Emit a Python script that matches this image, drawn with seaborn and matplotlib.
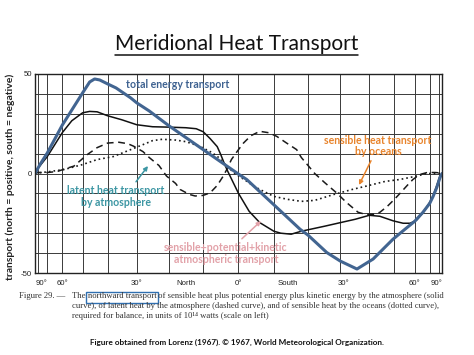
import numpy as np
import pandas as pd
import matplotlib
matplotlib.use("Agg")
import matplotlib.pyplot as plt
import seaborn as sns
from matplotlib.lines import Line2D
from matplotlib.patches import Rectangle

# latitude in degrees (north positive), northward transport in 10^14 W
total_lat = [90, 77, 70, 60, 50, 47, 45, 43, 40, 37, 32, 30, 26, 20, 10, 0, -2.3, -10, -17.6, -20,
             -25.7, -30, -35.6, -41.4, -49.4, -54.9, -60, -65, -70, -73, -77, -82, -90]
total_val = [0, 4.7, 10.3, 24.3, 40.5, 46, 47.5, 47, 45, 43, 38, 35.5, 31.4, 24, 12, -0.3, -3, -15.7, -28, -31,
             -39.7, -44, -48, -43, -33, -28, -24, -19.5, -15, -11.5, -7, -2, 0]

atmos_lat = [90, 80, 70, 60, 55, 50, 47, 44, 40, 35, 30, 25, 20, 15, 12, 10, 8, 6, 5, 4, 3, 0,
             -3, -6, -10, -12, -15, -18, -25, -30, -35, -40, -44, -49.5, -54, -57.5, -61, -65, -70,
             -73, -77, -82, -90]
atmos_val = [0, 2.7, 8.5, 20.5, 26.5, 30.5, 31.2, 31, 29, 27, 24.5, 23.5, 23.3, 23, 22.5, 21, 17.5, 13.5,
             9.5, 5, 1, -10, -19, -24.7, -29, -30, -30.5, -29, -26.5, -24.7, -23, -21, -21.5, -23.8,
             -25, -25, -23.5, -19.7, -14.5, -11.3, -6, -1, 0]

latent_lat = [90, 80, 70, 63, 58, 54, 51, 48, 44, 40, 36, 33, 31, 28, 26, 23, 20.7, 18, 16.7, 14,
              12.3, 10, 8, 6, 4.3, 3.3, 2, 0, -1.4, -3.5, -6, -8.5, -10.8, -13.5, -16.6, -18, -20, -22,
              -25, -29, -32, -36, -38.5, -41.5, -44, -47, -50, -52.5, -56, -59, -63, -68, -75, -82, -90]
latent_val = [0, 0.5, 0.5, 1, 2.5, 3.7, 6.5, 9.5, 13, 15.3, 15.7, 15, 13.7, 11, 8, 4, -1.3, -5, -8, -10.5,
              -11.3, -11, -9.7, -6, -1.3, 2, 7, 12, 15.3, 19, 21.2, 20.5, 18.7, 15.5, 12, 8, 4, 0,
              -4.5, -10, -14.5, -19.5, -20.5, -20.5, -19.5, -16.5, -13, -10, -6, -3, -0.5, 0.5, 0.5, 0.3, 0]

ocean_lat = [90, 80, 70, 59, 50, 44, 38, 32, 28, 25, 22, 18, 15, 11, 8, 6, 3.3, 1, -2, -4, -6, -10,
             -14, -18, -22, -28, -34, -39, -46, -52.5, -60, -68, -80, -90]
ocean_val = [0, 0.3, 0.8, 2, 4.5, 7, 8.5, 12, 14.5, 16.5, 17.2, 16.8, 16, 13.7, 11, 8.7, 3.7, 0, -3.5, -6,
             -8, -11.5, -13, -14, -13.5, -10.5, -8, -6.3, -4, -3, -1.5, 0, 0, 0]

tick_lats = [75, 60, 30, 15, 0, -14, -31, -60, -77]
tick_labels = ["90°", "60°", "30°", "North", "0°", "South", "30°", "60°", "90°"]

caption_head = "Figure 29. —"
caption_lines = [
    ["The ", "northward transport",
     " of sensible heat plus potential energy plus kinetic energy by the atmosphere (solid"],
    ["curve), of latent heat by the atmosphere (dashed curve), and of sensible heat by the oceans (dotted curve),"],
    ["required for balance, in units of 10¹⁴ watts (scale on left)"],
]

def sx(lat):
    # abscissa is sine of latitude, north on the left
    return -np.sin(np.radians(np.asarray(lat, dtype=float)))

sns.set_theme(style="white")
plt.rcParams['font.family'] = ['Lato', 'DejaVu Sans']

W, H = 474, 355
fig = plt.figure(figsize=(W / 100, H / 100), dpi=100)
fig.patch.set_facecolor("white")
ax = fig.add_axes([35 / W, 1 - 273 / H, (442 - 35) / W, (273 - 74) / H])

curves = [
    (latent_lat, latent_val, dict(color="#1a1a1a", lw=1.1, linestyle=(0, (4.5, 3)))),
    (ocean_lat, ocean_val, dict(color="#1a1a1a", lw=1.2, linestyle=(0, (1, 1.8)))),
    (atmos_lat, atmos_val, dict(color="#111111", lw=1.1, linestyle="-")),
    (total_lat, total_val, dict(color="#426591", lw=2.2, linestyle="-")),
]
for lat, val, kw in curves:
    df = pd.DataFrame({"x": sx(lat), "y": val})
    sns.lineplot(data=df, x="x", y="y", ax=ax, estimator=None, sort=False, **kw)

ax.set_xlim(-1, 1)
ax.set_ylim(-50, 50)
ax.set_xlabel("")
ax.set_ylabel("")

ax.xaxis.remove_overlapping_locs = False
ax.set_xticks(sx(np.arange(-80, 81, 10)), minor=True)
ax.set_xticks(sx(tick_lats))
ax.set_xticklabels(tick_labels, family="Liberation Sans", fontsize=5.6, color="#222222")
ax.set_yticks([-50, 0, 50])
ax.set_yticklabels(["-50", "0", "50"], family="Liberation Sans", fontsize=5.6, color="#222222")
ax.set_yticks(np.arange(-40, 41, 10), minor=True)
ax.tick_params(which="both", length=0)
ax.tick_params(axis="x", pad=5)
ax.tick_params(axis="y", pad=2)
ax.xaxis.grid(True, which="minor", color="#3a3a3a", lw=0.7)
ax.xaxis.grid(False, which="major")
ax.yaxis.grid(True, which="both", color="#3a3a3a", lw=0.7)
for s in ax.spines.values():
    s.set_color("#222222")
    s.set_linewidth(1.0)

# y label of the slide
fig.text(10 / W, 1 - 177 / H, "transport (north = positive, south = negative)", rotation=90,
         ha="center", va="center", fontsize=7.45, fontweight="bold", color="#222222")

def fp(x, y):
    return (x, H - y)

ann_fs = 7.6
fig.text(178 / W, 1 - 84 / H, "total energy transport", ha="center", va="center",
         fontsize=ann_fs, fontweight="bold", color="#3d6190")
ax.annotate("latent heat transport\nby atmosphere", xy=fp(148, 166), xycoords="figure pixels",
            xytext=fp(116, 196.5), textcoords="figure pixels", ha="center", va="center",
            fontsize=ann_fs, fontweight="bold", color="#3c96a3", linespacing=1.1,
            arrowprops=dict(arrowstyle="-|>", color="#3c96a3", lw=1.1, mutation_scale=6,
                            shrinkA=0, shrinkB=0, relpos=(0.68, 1.0)))
ax.annotate("sensible heat transport\nby oceans", xy=fp(359, 185), xycoords="figure pixels",
            xytext=fp(378, 146), textcoords="figure pixels", ha="center", va="center",
            fontsize=ann_fs, fontweight="bold", color="#e8842c", linespacing=1.1,
            arrowprops=dict(arrowstyle="-|>", color="#e8842c", lw=1.1, mutation_scale=6,
                            shrinkA=0, shrinkB=0, relpos=(0.45, 0.0)))
ax.annotate("sensible+potential+kinetic\natmospheric transport", xy=fp(261, 221), xycoords="figure pixels",
            xytext=fp(226, 253.5), textcoords="figure pixels", ha="center", va="center",
            fontsize=ann_fs, fontweight="bold", color="#e2a1a8", linespacing=1.1,
            arrowprops=dict(arrowstyle="-|>", color="#e2a1a8", lw=1.1, mutation_scale=6,
                            shrinkA=0, shrinkB=0, relpos=(0.6, 1.0)))

# title with underline
title = fig.text(236.5 / W, 1 - 44 / H, "Meridional Heat Transport", ha="center", va="center",
                 fontsize=15, color="#111111")

# caption of the scanned figure, sized so line 1 fills 72..450 px
serif = ["Liberation Serif", "DejaVu Serif"]
fig.canvas.draw()
r = fig.canvas.get_renderer()
probe = fig.text(0, 0, "".join(caption_lines[0]), family=serif, fontsize=6)
cap_fs = 6 * (450 - 72) / probe.get_window_extent(r).width
probe.remove()
cap_kw = dict(family=serif, fontsize=cap_fs, color="#333333", va="baseline", ha="left")
ys = [298.0, 307.5, 317.5]
fig.text(19 / W, 1 - ys[0] / H, caption_head, **cap_kw)
for parts, yb in zip(caption_lines, ys):
    xc = 72.0
    for part in parts:
        t = fig.text(xc / W, 1 - yb / H, part, **cap_kw)
        bb = t.get_window_extent(r)
        if part == "northward transport":
            fig.add_artist(Rectangle((bb.x0 - 1.5, H - 302.5), bb.width + 3, 11.0, transform=None,
                                     fill=False, edgecolor="#2f6fb0", lw=1.0))
        xc += bb.width

fig.text(237 / W, 1 - 342.5 / H,
         "Figure obtained from Lorenz (1967). © 1967, World Meteorological Organization.",
         ha="center", va="center", fontsize=5.9, fontweight="bold", color="#111111")

fig.canvas.draw()
tb2 = title.get_window_extent(fig.canvas.get_renderer())
fig.add_artist(Line2D([tb2.x0, tb2.x1], [H - 54.5, H - 54.5], transform=None, color="#111111", lw=1.1))

fig.savefig("out.png", dpi=100, facecolor="white")
